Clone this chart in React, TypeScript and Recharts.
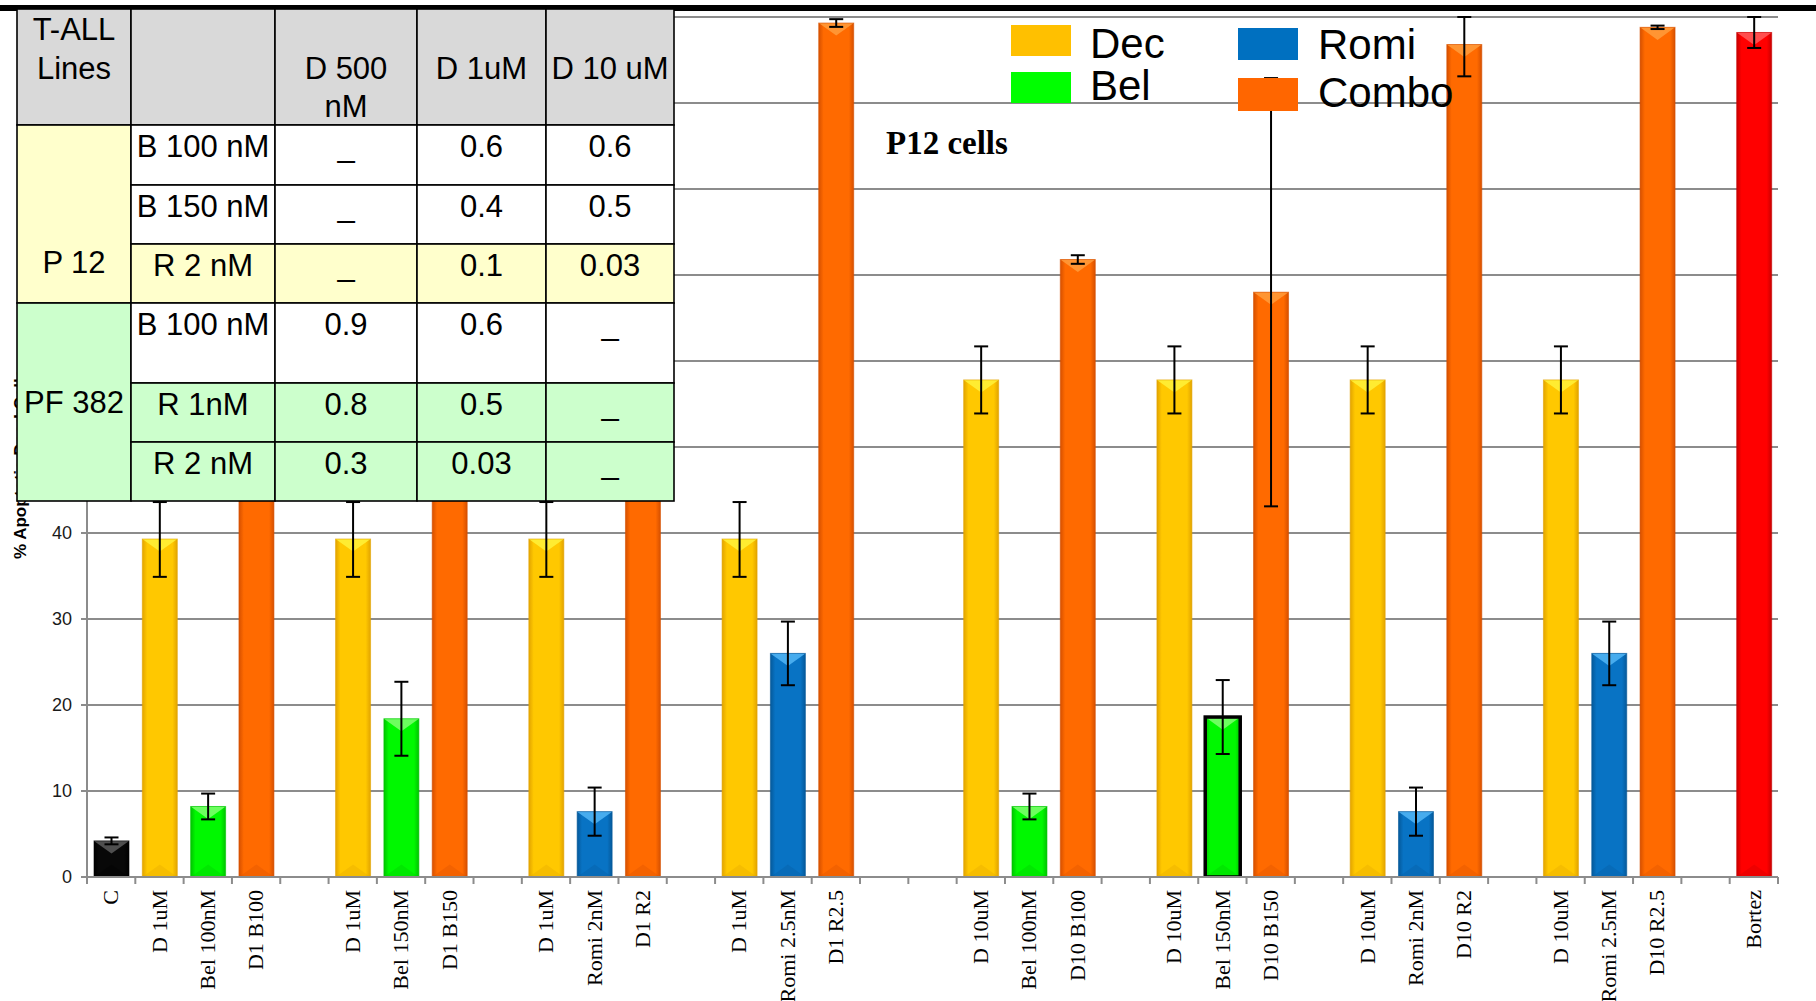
import React from 'react';
import { BarChart, Bar, XAxis, YAxis, CartesianGrid, ErrorBar } from 'recharts';

const W = 1816;
const H = 1001;
const PLOT_LEFT = 87;
const PLOT_RIGHT = 1778;
const PLOT_TOP = 17;
const PLOT_BOTTOM = 877;

// one slot per category, blank slots separate the treatment groups
const categories = [
  'C', 'D 1uM', 'Bel 100nM', 'D1 B100', '',
  'D 1uM', 'Bel 150nM', 'D1 B150', '',
  'D 1uM', 'Romi 2nM', 'D1 R2', '',
  'D 1uM', 'Romi 2.5nM', 'D1 R2.5', '', '',
  'D 10uM', 'Bel 100nM', 'D10 B100', '',
  'D 10uM', 'Bel 150nM', 'D10 B150', '',
  'D 10uM', 'Romi 2nM', 'D10 R2', '',
  'D 10uM', 'Romi 2.5nM', 'D10 R2.5', '',
  'Bortez',
];

const kinds = [
  'ctrl', 'dec', 'bel', 'combo', '',
  'dec', 'bel', 'combo', '',
  'dec', 'romi', 'combo', '',
  'dec', 'romi', 'combo', '', '',
  'dec', 'bel', 'combo', '',
  'dec', 'bel', 'combo', '',
  'dec', 'romi', 'combo', '',
  'dec', 'romi', 'combo', '',
  'bortez',
];

// % apoptotic cells
const apoptosis = [
  4.2, 39.3, 8.2, 58, null,
  39.3, 18.4, 66, null,
  39.3, 7.6, 88, null,
  39.3, 26, 99.3, null, null,
  57.8, 8.2, 71.8, null,
  57.8, 18.6, 68, null,
  57.8, 7.6, 96.8, null,
  57.8, 26, 98.8, null,
  98.2,
];

const errLow = [
  0.4, 4.4, 1.5, 2, 0,
  4.4, 4.3, 2, 0,
  4.4, 2.8, 2, 0,
  4.4, 3.7, 0.45, 0, 0,
  3.9, 1.5, 0.5, 0,
  3.9, 4.3, 24.9, 0,
  3.9, 2.8, 3.7, 0,
  3.9, 3.7, 0.2, 0,
  1.8,
];

const errHigh = [
  0.4, 4.3, 1.5, 2, 0,
  4.3, 4.3, 2, 0,
  4.3, 2.8, 2, 0,
  4.3, 3.7, 0.45, 0, 0,
  3.9, 1.5, 0.5, 0,
  3.9, 4.3, 24.9, 0,
  3.9, 2.8, 3.2, 0,
  3.9, 3.7, 0.2, 0,
  1.8,
];

const outlinedIndex = 23;

const yTicks = [0, 10, 20, 30, 40, 50, 60, 70, 80, 90, 100];

const data = categories.map((name, i) => ({
  name,
  kind: kinds[i],
  value: apoptosis[i],
  err: [errLow[i], errHigh[i]],
  outlined: i === outlinedIndex,
}));

const palette: Record<string, { base: string; light: string; dark: string }> = {
  ctrl: { base: '#080808', light: '#5c5c5c', dark: '#000000' },
  dec: { base: '#FFC800', light: '#FFF23A', dark: '#E2A400' },
  bel: { base: '#00F800', light: '#80FF70', dark: '#00C400' },
  romi: { base: '#0873C4', light: '#52B6F6', dark: '#05599A' },
  combo: { base: '#FF6A00', light: '#FF9C3C', dark: '#D65000' },
  bortez: { base: '#FF0000', light: '#FF5C5C', dark: '#C80000' },
};

const legendItems = [
  { label: 'Dec', color: '#FFC000', x: 1011, y: 25, h: 31, tx: 1090, ty: 58 },
  { label: 'Bel', color: '#00FF00', x: 1011, y: 72, h: 31, tx: 1090, ty: 100 },
  { label: 'Romi', color: '#0070C0', x: 1238, y: 28, h: 32, tx: 1318, ty: 59 },
  { label: 'Combo', color: '#FF6600', x: 1238, y: 78, h: 33, tx: 1318, ty: 107 },
];

// synergy table
const tableCols = [17, 131, 275, 417, 546, 674];
const tableRowEdges = [9, 125, 185, 244, 303, 383, 442, 501];
const rowFills = ['#d9d9d9', '#ffffff', '#ffffff', '#ffffcc', '#ffffff', '#ccffcc', '#ccffcc'];
const tableRows = [
  ['B 100 nM', '_', '0.6', '0.6'],
  ['B 150 nM', '_', '0.4', '0.5'],
  ['R 2 nM', '_', '0.1', '0.03'],
  ['B 100 nM', '0.9', '0.6', '_'],
  ['R 1nM', '0.8', '0.5', '_'],
  ['R 2 nM', '0.3', '0.03', '_'],
];
const headerLines = [
  [{ t: 'T-ALL', b: 40 }, { t: 'Lines', b: 79 }],
  [],
  [{ t: 'D 500', b: 79 }, { t: 'nM', b: 117 }],
  [{ t: 'D 1uM', b: 79 }],
  [{ t: 'D 10 uM', b: 79 }],
];
const cellLines = [
  { t: 'P 12', r0: 1, r1: 4, fill: '#ffffcc', b: 273 },
  { t: 'PF 382', r0: 4, r1: 7, fill: '#ccffcc', b: 413 },
];

const BAND = (PLOT_RIGHT - PLOT_LEFT) / categories.length;

const GlossyBar = (props: any) => {
  const { x, y, width, height, payload } = props;
  if (!height || height <= 0 || !payload) return null;
  const c = palette[payload.kind];
  const bevel = Math.min(width * 0.36, height / 2);
  return (
    <g>
      <rect x={x} y={y} width={width} height={height} fill={`url(#shade-${payload.kind})`} />
      <polygon
        points={`${x},${y} ${x + width},${y} ${x + width / 2},${y + bevel}`}
        fill={c.light}
        opacity={0.85}
      />
      <polygon
        points={`${x},${y + height} ${x + width},${y + height} ${x + width / 2},${y + height - bevel}`}
        fill={c.dark}
        opacity={0.3}
      />
      <rect
        x={x}
        y={y}
        width={width}
        height={height}
        fill="none"
        stroke={payload.outlined ? '#000' : c.dark}
        strokeWidth={payload.outlined ? 3.5 : 1}
        strokeOpacity={payload.outlined ? 1 : 0.6}
      />
    </g>
  );
};

const CategoryTick = (props: any) => {
  const { x, payload, index, visibleTicksCount } = props;
  const left = x - BAND / 2;
  const last = index === visibleTicksCount - 1;
  return (
    <g>
      <line x1={left} y1={PLOT_BOTTOM} x2={left} y2={PLOT_BOTTOM + 7} stroke="#8c8c8c" strokeWidth={2} />
      {last && (
        <line x1={left + BAND} y1={PLOT_BOTTOM} x2={left + BAND} y2={PLOT_BOTTOM + 7} stroke="#8c8c8c" strokeWidth={2} />
      )}
      <text
        x={x}
        y={PLOT_BOTTOM + 13}
        transform={`rotate(-90, ${x}, ${PLOT_BOTTOM + 13})`}
        textAnchor="end"
        dy="0.33em"
        fontFamily="'Liberation Serif', 'Times New Roman', serif"
        fontSize={22}
        fill="#000"
      >
        {payload.value}
      </text>
    </g>
  );
};

const YLabel = () => (
  <text
    x={26}
    y={559}
    transform="rotate(-90, 26, 559)"
    textAnchor="start"
    fontFamily="'Liberation Sans', Arial, sans-serif"
    fontWeight="bold"
    fontSize={17}
    fill="#000"
  >
    % Apoptotic Dead Cells
  </text>
);

const SynergyTable = () => {
  const font = "'Liberation Sans', Arial, sans-serif";
  const rects: React.ReactNode[] = [];
  const texts: React.ReactNode[] = [];
  const cx = (c: number) => (tableCols[c] + tableCols[c + 1]) / 2;
  // header row
  for (let c = 0; c < 5; c++) {
    rects.push(
      <rect key={`h${c}`} x={tableCols[c]} y={tableRowEdges[0]} width={tableCols[c + 1] - tableCols[c]}
        height={tableRowEdges[1] - tableRowEdges[0]} fill={rowFills[0]} stroke="#000" strokeWidth={1.6} />
    );
    headerLines[c].forEach((l, k) =>
      texts.push(<text key={`ht${c}-${k}`} x={cx(c)} y={l.b} textAnchor="middle">{l.t}</text>)
    );
  }
  // merged cell-line column
  cellLines.forEach((cl, k) => {
    rects.push(
      <rect key={`cl${k}`} x={tableCols[0]} y={tableRowEdges[cl.r0]} width={tableCols[1] - tableCols[0]}
        height={tableRowEdges[cl.r1] - tableRowEdges[cl.r0]} fill={cl.fill} stroke="#000" strokeWidth={1.6} />
    );
    texts.push(<text key={`clt${k}`} x={cx(0)} y={cl.b} textAnchor="middle">{cl.t}</text>);
  });
  // body cells
  tableRows.forEach((row, r) => {
    const top = tableRowEdges[r + 1];
    const bottom = tableRowEdges[r + 2];
    row.forEach((val, c) => {
      rects.push(
        <rect key={`b${r}-${c}`} x={tableCols[c + 1]} y={top} width={tableCols[c + 2] - tableCols[c + 1]}
          height={bottom - top} fill={rowFills[r + 1]} stroke="#000" strokeWidth={1.6} />
      );
      texts.push(<text key={`bt${r}-${c}`} x={cx(c + 1)} y={top + 32} textAnchor="middle">{val}</text>);
    });
  });
  return (
    <g>
      {rects}
      <g fontFamily={font} fontSize={31} fill="#000">{texts}</g>
    </g>
  );
};

const Overlay = () => (
  <svg width={W} height={H} style={{ position: 'absolute', left: 0, top: 0, pointerEvents: 'none' }}>
    <rect x={0} y={5} width={W} height={6} fill="#000" />
    <SynergyTable />
    {legendItems.map((it) => (
      <g key={it.label}>
        <rect x={it.x} y={it.y} width={60} height={it.h} fill={it.color} />
        <text x={it.tx} y={it.ty} fontFamily="'Liberation Sans', Arial, sans-serif" fontSize={42} fill="#000">
          {it.label}
        </text>
      </g>
    ))}
    <text x={886} y={154} fontFamily="'Liberation Serif', 'Times New Roman', serif" fontWeight="bold" fontSize={33} fill="#000">
      P12 cells
    </text>
  </svg>
);

export default function App() {
  return (
    <div style={{ position: 'absolute', left: 0, top: 0, width: W, height: H, background: '#fff' }}>
      <BarChart
        width={W}
        height={H}
        data={data}
        margin={{ top: PLOT_TOP, right: W - PLOT_RIGHT, bottom: 0, left: 0 }}
        barSize={35}
      >
        <defs>
          {Object.entries(palette).map(([k, c]) => (
            <linearGradient key={k} id={`shade-${k}`} x1="0" y1="0" x2="1" y2="0">
              <stop offset="0%" stopColor={c.dark} />
              <stop offset="14%" stopColor={c.base} />
              <stop offset="86%" stopColor={c.base} />
              <stop offset="100%" stopColor={c.dark} />
            </linearGradient>
          ))}
        </defs>
        <CartesianGrid vertical={false} stroke="#8c8c8c" strokeWidth={2} />
        <XAxis
          dataKey="name"
          interval={0}
          height={H - PLOT_BOTTOM}
          tickLine={false}
          tickSize={0}
          tickMargin={0}
          axisLine={{ stroke: '#8c8c8c', strokeWidth: 2 }}
          tick={<CategoryTick />}
        />
        <XAxis
          xAxisId="top"
          orientation="top"
          dataKey="name"
          height={0}
          tick={false}
          tickLine={false}
          axisLine={{ stroke: '#000', strokeWidth: 1.5 }}
        />
        <YAxis
          domain={[0, 100]}
          ticks={yTicks}
          allowDataOverflow
          width={PLOT_LEFT}
          tickSize={6}
          tickMargin={9}
          tickLine={{ stroke: '#8c8c8c', strokeWidth: 2 }}
          axisLine={{ stroke: '#8c8c8c', strokeWidth: 2 }}
          tick={{ fontFamily: "'Liberation Sans', Arial, sans-serif", fontSize: 18, fill: '#1a1a1a' }}
          label={<YLabel />}
        />
        <YAxis
          yAxisId="right"
          orientation="right"
          width={0}
          tick={false}
          tickLine={false}
          axisLine={{ stroke: '#444', strokeWidth: 1.5 }}
        />
        <Bar dataKey="value" isAnimationActive={false} shape={(p: any) => <GlossyBar {...p} />}>
          <ErrorBar dataKey="err" direction="y" width={7} stroke="#000" strokeWidth={2} />
        </Bar>
      </BarChart>
      <Overlay />
    </div>
  );
}
